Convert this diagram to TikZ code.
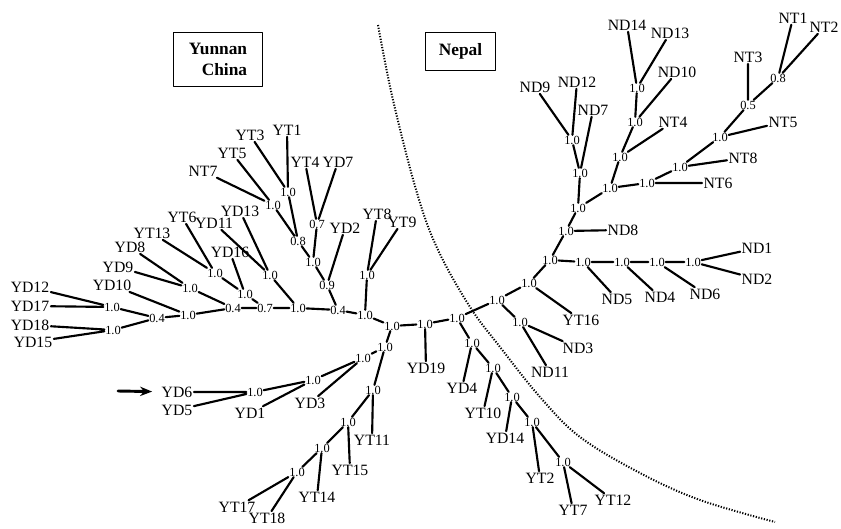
\documentclass[tikz,border=0pt]{standalone}
\usepackage{fontspec}
\setmainfont{Liberation Serif}
\usetikzlibrary{arrows.meta}

\tikzset{
  leaf/.style={inner sep=1pt, font=\fontsize{11.8}{12}\selectfont},
  bs/.style={inner sep=0.5pt, font=\fontsize{9.3}{9.3}\selectfont},
  region/.style={draw, line width=0.8pt, inner sep=4pt, font=\fontsize{13}{16}\selectfont\bfseries},
  branch/.style={line width=1.6pt},
}

\begin{document}
\begin{tikzpicture}[x=0.75pt, y=-0.75pt, line join=round, line cap=round]
  \useasboundingbox (0,0) rectangle (841,528);

  % region boxes and the border between them
  \node[region, align=right, minimum width=67pt, minimum height=41pt] (yunnan) at (218,59.5) {Yunnan\\China};
  \node[region, minimum width=52pt, minimum height=28pt] (nepal) at (460.5,51.5) {Nepal};
  \draw[line width=1.5pt, dash pattern=on 0.9pt off 1.2pt, line cap=butt]
    plot[smooth, tension=0.6] coordinates {(378,25) (393,100) (417,193) (438,250) (470,307)
      (500,347) (540,397) (580,437) (640,473) (700,500) (775,522)};

  % leaves, Yunnan side
  \node[leaf] (yd12) at (30,287) {YD12};
  \node[leaf] (yd17) at (30,306) {YD17};
  \node[leaf] (yd18) at (30,325) {YD18};
  \node[leaf] (yd15) at (33,342) {YD15};
  \node[leaf] (yd10) at (112,285) {YD10};
  \node[leaf] (yd9) at (118,267) {YD9};
  \node[leaf] (yd8) at (130,247) {YD8};
  \node[leaf] (yt13) at (152,233) {YT13};
  \node[leaf] (yt6) at (182,217) {YT6};
  \node[leaf] (yd11) at (214,223) {YD11};
  \node[leaf] (yd13) at (240,211) {YD13};
  \node[leaf] (yd16) at (230,252) {YD16};
  \node[leaf] (nt7) at (203,171) {NT7};
  \node[leaf] (yt5) at (232,153) {YT5};
  \node[leaf] (yt3) at (250,135) {YT3};
  \node[leaf] (yt1) at (287,130) {YT1};
  \node[leaf] (yt4) at (305,162) {YT4};
  \node[leaf] (yd7) at (338,162) {YD7};
  \node[leaf] (yd2) at (345,228) {YD2};
  \node[leaf] (yt8) at (377,214) {YT8};
  \node[leaf] (yt9) at (402,222) {YT9};
  \node[leaf] (yd6) at (177,392) {YD6};
  \node[leaf] (yd5) at (177,410) {YD5};
  \node[leaf] (yd1) at (250,413) {YD1};
  \node[leaf] (yd3) at (310,403) {YD3};
  \node[leaf] (yt11) at (372,440) {YT11};
  \node[leaf] (yt15) at (350,470) {YT15};
  \node[leaf] (yt14) at (317,497) {YT14};
  \node[leaf] (yt17) at (237,507) {YT17};
  \node[leaf] (yt18) at (267,518) {YT18};
  \node[leaf] (yd19) at (426,368) {YD19};
  \node[leaf] (yd4) at (462,388) {YD4};
  \node[leaf] (yt10) at (483,413) {YT10};
  \node[leaf] (yd14) at (505,438) {YD14};
  \node[leaf] (yt2) at (540,478) {YT2};
  \node[leaf] (yt7) at (573,510) {YT7};
  \node[leaf] (yt12) at (613,500) {YT12};

  % leaves, Nepal side
  \node[leaf] (nd3) at (578,348) {ND3};
  \node[leaf] (nd11) at (550,372) {ND11};
  \node[leaf] (yt16) at (581,320) {YT16};
  \node[leaf] (nd5) at (617,299) {ND5};
  \node[leaf] (nd4) at (660,297) {ND4};
  \node[leaf] (nd6) at (705,294) {ND6};
  \node[leaf] (nd1) at (757,248) {ND1};
  \node[leaf] (nd2) at (757,279) {ND2};
  \node[leaf] (nd8) at (623,230) {ND8};
  \node[leaf] (nd9) at (535,87) {ND9};
  \node[leaf] (nd12) at (577,82) {ND12};
  \node[leaf] (nd7) at (593,110) {ND7};
  \node[leaf] (nd14) at (627,25) {ND14};
  \node[leaf] (nd13) at (670,33) {ND13};
  \node[leaf] (nd10) at (677,72) {ND10};
  \node[leaf] (nt4) at (673,122) {NT4};
  \node[leaf] (nt6) at (718,183) {NT6};
  \node[leaf] (nt8) at (743,158) {NT8};
  \node[leaf] (nt5) at (783,122) {NT5};
  \node[leaf] (nt3) at (748,57) {NT3};
  \node[leaf] (nt1) at (793,18) {NT1};
  \node[leaf] (nt2) at (824,27) {NT2};

  % inner nodes with support values
  \node[bs] (a1) at (112,307) {1.0};
  \node[bs] (a2) at (113,330) {1.0};
  \node[bs] (a3) at (157,318) {0.4};
  \node[bs] (a4) at (188,315) {1.0};
  \node[bs] (a5) at (190,288) {1.0};
  \node[bs] (a6) at (233,308) {0.4};
  \node[bs] (a7) at (215,273) {1.0};
  \node[bs] (a8) at (245,294) {1.0};
  \node[bs] (a9) at (265,308) {0.7};
  \node[bs] (a10) at (270,275) {1.0};
  \node[bs] (a11) at (298,308) {1.0};
  \node[bs] (a12) at (273,205) {1.0};
  \node[bs] (a13) at (288,192) {1.0};
  \node[bs] (a14) at (298,241) {0.8};
  \node[bs] (a15) at (317,224) {0.7};
  \node[bs] (a16) at (313,262) {1.0};
  \node[bs] (a17) at (327,285) {0.9};
  \node[bs] (a18) at (338,310) {0.4};
  \node[bs] (a19) at (367,275) {1.0};
  \node[bs] (a20) at (365,315) {1.0};
  \node[bs] (a21) at (392,326) {1.0};

  \node[bs] (b1) at (385,347) {1.0};
  \node[bs] (b2) at (363,358) {1.0};
  \node[bs] (b3) at (313,380) {1.0};
  \node[bs] (b4) at (255,392) {1.0};
  \node[bs] (b5) at (373,390) {1.0};
  \node[bs] (b6) at (348,422) {1.0};
  \node[bs] (b7) at (322,448) {1.0};
  \node[bs] (b8) at (297,472) {1.0};

  \node[bs] (c1) at (425,324) {1.0};
  \node[bs] (c2) at (457,318) {1.0};
  \node[bs] (c3) at (472,343) {1.0};
  \node[bs] (c4) at (493,368) {1.0};
  \node[bs] (c5) at (512,397) {1.0};
  \node[bs] (c6) at (532,422) {1.0};
  \node[bs] (c7) at (563,462) {1.0};

  \node[bs] (d1) at (497,300) {1.0};
  \node[bs] (d2) at (520,322) {1.0};
  \node[bs] (d3) at (529,283) {1.0};
  \node[bs] (d4) at (550,260) {1.0};
  \node[bs] (d5) at (566,231) {1.0};
  \node[bs] (d6) at (578,208) {1.0};

  \node[bs] (e1) at (583,262) {1.0};
  \node[bs] (e2) at (622,262) {1.0};
  \node[bs] (e3) at (657,262) {1.0};
  \node[bs] (e4) at (693,262) {1.0};

  \node[bs] (f1) at (580,173) {1.0};
  \node[bs] (f2) at (572,140) {1.0};
  \node[bs] (g1) at (610,188) {1.0};
  \node[bs] (g2) at (620,157) {1.0};
  \node[bs] (g3) at (635,122) {1.0};
  \node[bs] (g4) at (637,88) {1.0};
  \node[bs] (h1) at (647,183) {1.0};
  \node[bs] (h2) at (680,167) {1.0};
  \node[bs] (h3) at (720,137) {1.0};
  \node[bs] (h4) at (748,105) {0.5};
  \node[bs] (h5) at (778,78) {0.8};

  % branches
  \draw[branch] (a1)--(yd12) (a1)--(yd17) (a2)--(yd18) (a2)--(yd15);
  \draw[branch] (a3)--(a1) (a3)--(a2) (a4)--(a3) (a4)--(yd10);
  \draw[branch] (a5)--(yd9) (a5)--(yd8) (a6)--(a4) (a6)--(a5);
  \draw[branch] (a7)--(yt13) (a7)--(yt6) (a8)--(a7) (a8)--(yd16);
  \draw[branch] (a9)--(a6) (a9)--(a8);
  \draw[branch] (a10)--(yd11) (a10)--(yd13) (a11)--(a9) (a11)--(a10);
  \draw[branch] (a12)--(nt7) (a12)--(yt5) (a13)--(yt3) (a13)--(yt1);
  \draw[branch] (a14)--(a12) (a14)--(a13) (a15)--(yt4) (a15)--(yd7);
  \draw[branch] (a16)--(a14) (a16)--(a15) (a17)--(a16) (a17)--(yd2);
  \draw[branch] (a18)--(a11) (a18)--(a17);
  \draw[branch] (a19)--(yt8) (a19)--(yt9) (a20)--(a18) (a20)--(a19);
  \draw[branch] (a21)--(a20) (a21)--(b1) (a21)--(c1);

  \draw[branch] (b1)--(b2) (b2)--(yd3) (b2)--(b3) (b3)--(yd1) (b3)--(b4);
  \draw[branch] (b4)--(yd6) (b4)--(yd5);
  \draw[branch] (b1)--(b5) (b5)--(yt11) (b5)--(b6) (b6)--(yt15) (b6)--(b7);
  \draw[branch] (b7)--(yt14) (b7)--(b8) (b8)--(yt17) (b8)--(yt18);

  \draw[branch] (c1)--(yd19) (c1)--(c2) (c2)--(c3) (c3)--(yd4) (c3)--(c4);
  \draw[branch] (c4)--(yt10) (c4)--(c5) (c5)--(yd14) (c5)--(c6);
  \draw[branch] (c6)--(yt2) (c6)--(c7) (c7)--(yt7) (c7)--(yt12);

  \draw[branch] (c2)--(d1) (d1)--(d2) (d2)--(nd3) (d2)--(nd11);
  \draw[branch] (d1)--(d3) (d3)--(yt16) (d3)--(d4);
  \draw[branch] (d4)--(e1) (e1)--(nd5) (e1)--(e2) (e2)--(nd4) (e2)--(e3);
  \draw[branch] (e3)--(nd6) (e3)--(e4) (e4)--(nd1) (e4)--(nd2);
  \draw[branch] (d4)--(d5) (d5)--(nd8) (d5)--(d6);
  \draw[branch] (d6)--(f1) (f1)--(nd7) (f1)--(f2) (f2)--(nd9) (f2)--(nd12);
  \draw[branch] (d6)--(g1) (g1)--(g2) (g2)--(nt4) (g2)--(g3);
  \draw[branch] (g3)--(nd10) (g3)--(g4) (g4)--(nd14) (g4)--(nd13);
  \draw[branch] (g1)--(h1) (h1)--(nt6) (h1)--(h2) (h2)--(nt8) (h2)--(h3);
  \draw[branch] (h3)--(nt5) (h3)--(h4) (h4)--(nt3) (h4)--(h5);
  \draw[branch] (h5)--(nt1) (h5)--(nt2);

  % pointer to YD6
  \coordinate (ptail) at (118,391);
  \draw[line width=2.2pt, -{Stealth[length=9pt, width=7pt]}, shorten >=6pt] (ptail)--(yd6);
\end{tikzpicture}
\end{document}
